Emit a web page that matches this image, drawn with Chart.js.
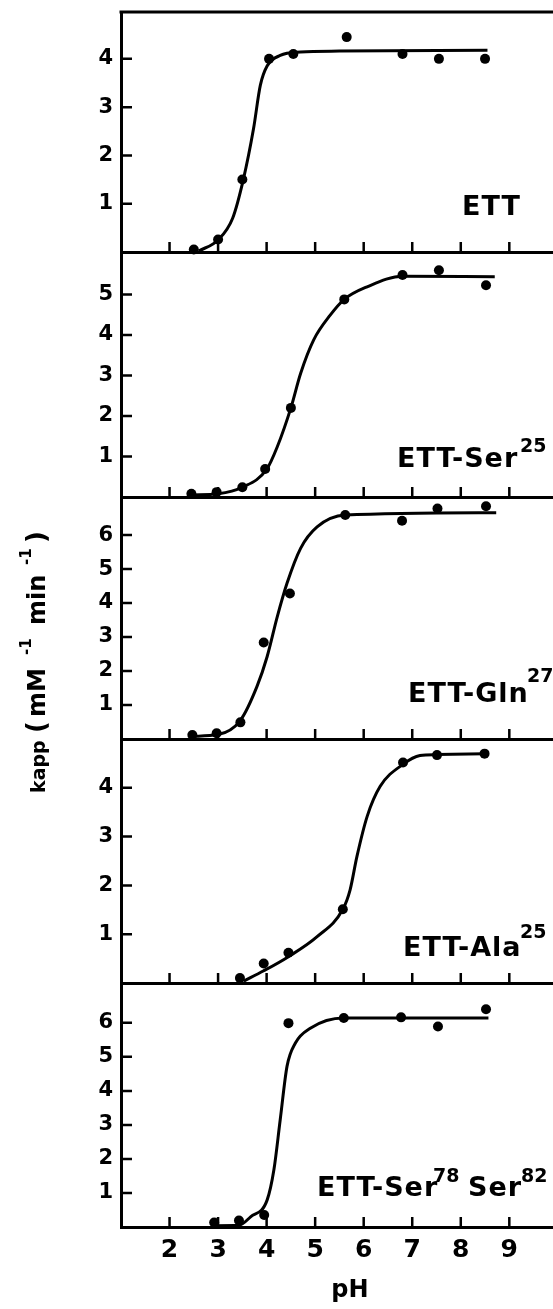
<!DOCTYPE html>
<html>
<head>
<meta charset="utf-8">
<title>kapp vs pH</title>
<script src="https://cdn.jsdelivr.net/npm/chart.js@4.4.1/dist/chart.umd.min.js"></script>
<style>
  body { margin: 0; background: #fff; }
  #wrap { position: relative; width: 553px; height: 1309px; }
  #wrap canvas { position: absolute; left: 0; top: 0; }
</style>
</head>
<body>
<div id="wrap">
  <canvas id="p1" width="553" height="1309"></canvas>
  <canvas id="p2" width="553" height="1309"></canvas>
  <canvas id="p3" width="553" height="1309"></canvas>
  <canvas id="p4" width="553" height="1309"></canvas>
  <canvas id="p5" width="553" height="1309"></canvas>
</div>
<script>
// pH axis (shared by all panels)
const phTicks = [2, 3, 4, 5, 6, 7, 8, 9];

// ETT
const ettPH = [2.5, 3.0, 3.5, 4.05, 4.55, 5.65, 6.8, 7.55, 8.5];
const ettK = [0.05, 0.26, 1.5, 4.0, 4.1, 4.45, 4.1, 4.0, 4.0];
const ettFitPH = [2.6, 3.0, 3.3, 3.52, 3.73, 3.87, 4.01, 4.28, 4.7, 5.5, 8.55];
const ettFitK = [0.02, 0.25, 0.7, 1.5, 2.55, 3.45, 3.85, 4.07, 4.14, 4.16, 4.18];
const ettTicks = [1, 2, 3, 4];

// ETT-Ser25
const ser25PH = [2.45, 2.97, 3.5, 3.97, 4.5, 5.6, 6.8, 7.55, 8.52];
const ser25K = [0.08, 0.12, 0.24, 0.69, 2.2, 4.88, 5.48, 5.6, 5.23];
const ser25FitPH = [2.45, 3.0, 3.5, 4.0, 4.22, 4.5, 4.7, 4.97, 5.31, 5.6, 6.07, 6.8, 8.7];
const ser25FitK = [0.05, 0.08, 0.24, 0.68, 1.24, 2.2, 3.05, 3.88, 4.49, 4.88, 5.19, 5.45, 5.44];
const ser25Ticks = [1, 2, 3, 4, 5];

// ETT-Gln27
const gln27PH = [2.47, 2.97, 3.46, 3.94, 4.48, 5.62, 6.79, 7.52, 8.52];
const gln27K = [0.12, 0.17, 0.49, 2.84, 4.28, 6.59, 6.42, 6.78, 6.85];
const gln27FitPH = [2.47, 3.0, 3.46, 3.8, 4.01, 4.22, 4.42, 4.7, 5.04, 5.62, 8.73];
const gln27FitK = [0.08, 0.13, 0.55, 1.54, 2.42, 3.6, 4.58, 5.61, 6.24, 6.59, 6.66];
const gln27Ticks = [1, 2, 3, 4, 5, 6];

// ETT-Ala25
const ala25PH = [3.45, 3.94, 4.45, 5.57, 6.81, 7.51, 8.49];
const ala25K = [0.1, 0.4, 0.62, 1.51, 4.52, 4.67, 4.7];
const ala25FitPH = [3.53, 3.94, 4.45, 5.04, 5.57, 5.72, 5.86, 6.07, 6.34, 6.81, 7.16, 7.51, 8.49];
const ala25FitK = [0.04, 0.25, 0.54, 0.95, 1.51, 1.91, 2.59, 3.41, 4.03, 4.48, 4.66, 4.68, 4.7];
const ala25Ticks = [1, 2, 3, 4];

// ETT-Ser78Ser82
const ser7882PH = [2.92, 3.43, 3.95, 4.45, 5.59, 6.77, 7.53, 8.52];
const ser7882K = [0.13, 0.19, 0.35, 5.99, 6.14, 6.16, 5.89, 6.4];
const ser7882FitPH = [2.92, 3.43, 3.67, 4.01, 4.15, 4.28, 4.42, 4.59, 4.9, 5.59, 8.57];
const ser7882FitK = [0.04, 0.05, 0.3, 0.79, 1.68, 3.15, 4.72, 5.4, 5.84, 6.14, 6.14];
const ser7882Ticks = [1, 2, 3, 4, 5, 6];

const FONT = '"DejaVu Sans"';
const H = 1309;

function zip(xs, ys) {
  return xs.map((x, i) => ({ x: x, y: ys[i] }));
}

// scales must not push the plot area around for their end labels
function noEdgePadding(s) {
  s.paddingTop = 0;
  s.paddingBottom = 0;
  s.paddingLeft = 0;
  s.paddingRight = 0;
}

function drawYTitle(ctx) {
  ctx.save();
  ctx.translate(45, 793);
  ctx.rotate(-Math.PI / 2);
  const seg = (t, u, size, lift) => {
    ctx.font = 'bold ' + size + 'px ' + FONT;
    ctx.fillText(t, u, -lift);
  };
  seg('kapp', 0, 19, 0);
  seg('(', 60, 26, 0);
  seg('mM', 76, 24, 0);
  seg('-1', 138, 15, 14);
  seg('min', 168, 24, 0);
  seg('-1', 228, 15, 14);
  seg(')', 250, 26, 0);
  ctx.restore();
}

// inward ticks, top frame line and the panel's name
function decor(p) {
  return {
    id: 'decor',
    afterDraw(chart) {
      const ctx = chart.ctx;
      const area = chart.chartArea;
      const xs = chart.scales.x, ys = chart.scales.y;
      ctx.save();
      ctx.strokeStyle = '#000';
      ctx.lineWidth = 2.5;
      ctx.beginPath();
      ys.ticks.forEach(t => {
        const py = ys.getPixelForValue(t.value);
        ctx.moveTo(area.left, py);
        ctx.lineTo(area.left + 11, py);
      });
      xs.ticks.forEach(t => {
        const px = xs.getPixelForValue(t.value);
        ctx.moveTo(px, area.bottom);
        ctx.lineTo(px, area.bottom - 10);
      });
      ctx.stroke();
      if (p.topLine) {
        ctx.lineWidth = 3;
        ctx.beginPath();
        ctx.moveTo(area.left - 1.5, area.top);
        ctx.lineTo(area.right, area.top);
        ctx.stroke();
      }
      ctx.fillStyle = '#000';
      ctx.textBaseline = 'alphabetic';
      ctx.textAlign = 'left';
      p.labels.forEach(([text, x, y, size]) => {
        ctx.font = 'bold ' + size + 'px ' + FONT;
        ctx.letterSpacing = size > 20 ? '1px' : '0px';
        ctx.fillText(text, x, y);
      });
      ctx.letterSpacing = '0px';
      if (p.yTitle) drawYTitle(ctx);
      if (p.phTitle) {
        ctx.font = 'bold 24px ' + FONT;
        ctx.textAlign = 'center';
        ctx.fillText('pH', 350, 1297);
      }
      ctx.restore();
    }
  };
}

function makePanel(id, p) {
  const bottomAxis = !!p.phTitle;
  const axisH = bottomAxis ? 50 : 0;
  return new Chart(document.getElementById(id), {
    type: 'scatter',
    data: {
      datasets: [
        {
          data: zip(p.fitX, p.fitY),
          showLine: true,
          borderColor: '#000',
          borderWidth: 3,
          pointRadius: 0,
          cubicInterpolationMode: 'monotone',
          clip: false
        },
        {
          data: zip(p.x, p.y),
          pointRadius: 5,
          pointBackgroundColor: '#000',
          pointBorderWidth: 0,
          clip: false
        }
      ]
    },
    options: {
      responsive: false,
      animation: false,
      devicePixelRatio: 1,
      layout: {
        autoPadding: false,
        padding: { top: p.top, bottom: H - p.bottom - axisH, left: 0, right: 0 }
      },
      plugins: { legend: { display: false }, tooltip: { enabled: false } },
      scales: {
        x: {
          type: 'linear',
          min: 1,
          max: 9.9,
          afterBuildTicks: s => { s.ticks = phTicks.map(v => ({ value: v })); },
          afterFit: s => { s.height = axisH; noEdgePadding(s); },
          grid: { display: false, drawTicks: false },
          border: { color: '#000', width: 3 },
          ticks: {
            display: bottomAxis,
            color: '#000',
            padding: 8,
            maxRotation: 0,
            autoSkip: false,
            font: { family: 'DejaVu Sans', size: 25, weight: 'bold' }
          }
        },
        y: {
          type: 'linear',
          min: 0,
          max: p.yMax,
          afterBuildTicks: s => { s.ticks = p.yTicks.map(v => ({ value: v })); },
          afterFit: s => { s.width = 121; noEdgePadding(s); },
          grid: { display: false, drawTicks: false },
          border: { color: '#000', width: 3 },
          ticks: {
            color: '#000',
            padding: 8,
            autoSkip: false,
            font: { family: 'DejaVu Sans', size: 21, weight: 'bold' }
          }
        }
      }
    },
    plugins: [decor(p)]
  });
}

makePanel('p1', {
  x: ettPH, y: ettK, fitX: ettFitPH, fitY: ettFitK,
  yMax: 4.97, yTicks: ettTicks, top: 12, bottom: 252, topLine: true,
  labels: [['ETT', 462, 215, 27]]
});
makePanel('p2', {
  x: ser25PH, y: ser25K, fitX: ser25FitPH, fitY: ser25FitK,
  yMax: 6.05, yTicks: ser25Ticks, top: 252, bottom: 497,
  labels: [['ETT-Ser', 397, 467, 27], ['25', 520, 452, 19]]
});
makePanel('p3', {
  x: gln27PH, y: gln27K, fitX: gln27FitPH, fitY: gln27FitK,
  yMax: 7.12, yTicks: gln27Ticks, top: 497, bottom: 739, yTitle: true,
  labels: [['ETT-Gln', 408, 702, 27], ['27', 527, 682, 19]]
});
makePanel('p4', {
  x: ala25PH, y: ala25K, fitX: ala25FitPH, fitY: ala25FitK,
  yMax: 5.0, yTicks: ala25Ticks, top: 739, bottom: 983,
  labels: [['ETT-Ala', 403, 956, 27], ['25', 520, 938, 19]]
});
makePanel('p5', {
  x: ser7882PH, y: ser7882K, fitX: ser7882FitPH, fitY: ser7882FitK,
  yMax: 7.17, yTicks: ser7882Ticks, top: 983, bottom: 1227, phTitle: true,
  labels: [['ETT-Ser', 317, 1196, 27], ['78', 433, 1182, 19], ['Ser', 468, 1196, 27], ['82', 521, 1182, 19]]
});
</script>
</body>
</html>
